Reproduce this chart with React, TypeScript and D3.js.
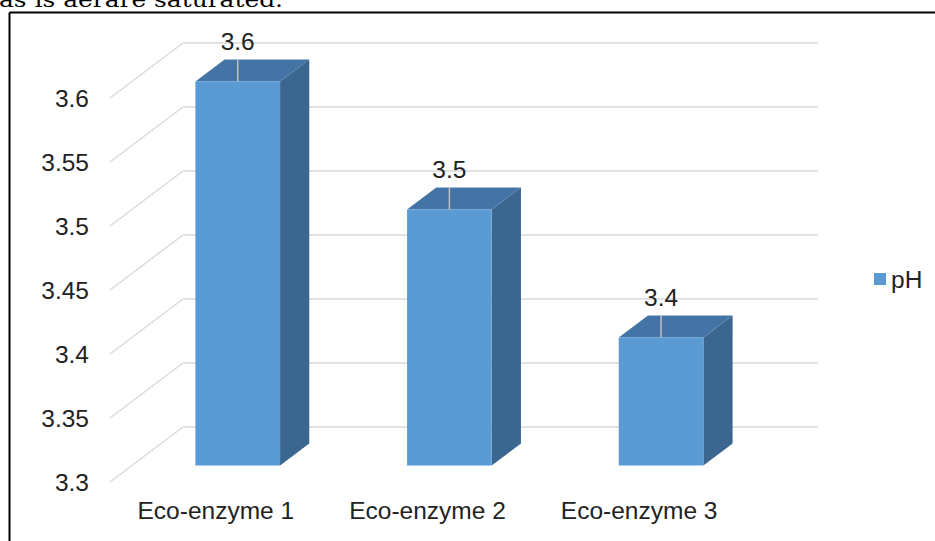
import React from "react";
import * as d3 from "d3";

const categories = ["Eco-enzyme 1", "Eco-enzyme 2", "Eco-enzyme 3"];
const phValues = [3.6, 3.5, 3.4];
const yTicks = [3.3, 3.35, 3.4, 3.45, 3.5, 3.55, 3.6];
const seriesName = "pH";
const topText = "as is  aerare saturated.";

const W = 935;
const H = 541;
const DX = 73;
const DY = -55;
const BAR_D0 = 0.3;
const BAR_D1 = 0.7;

const FONT = "'Liberation Sans', Arial, sans-serif";
const FS = 24.5;

export default function App() {
  const y = d3.scaleLinear().domain([3.3, 3.6]).range([482, 98]);
  const x = d3.scaleBand<string>().domain(categories).range([110, 745]).padding(0);
  const barW = x.bandwidth() * 0.4;
  const fmt = d3.format("");
  const base = y.domain()[0];

  return (
    <svg
      width={W}
      height={H}
      style={{ position: "fixed", left: 0, top: 0, background: "#fff" }}
    >
      <rect x={0} y={0} width={W} height={H} fill="#fff" />
      <text
        x={-1}
        y={7}
        fontFamily="'DejaVu Serif', serif"
        fontSize={20}
        fill="#000"
        textLength={284}
        lengthAdjust="spacingAndGlyphs"
      >
        {topText}
      </text>
      {/* frame */}
      <line x1={9.5} y1={12.5} x2={W} y2={12.5} stroke="#000" strokeWidth={2} />
      <line x1={9.5} y1={12.5} x2={9.5} y2={H} stroke="#000" strokeWidth={2} />

      {/* grid */}
      {yTicks.map((t) => {
        const yf = y(t);
        return (
          <g key={t}>
            <line x1={110} y1={yf} x2={110 + DX} y2={yf + DY} stroke="#d9d9d9" strokeWidth={1.4} />
            <line x1={110 + DX} y1={yf + DY} x2={745 + DX} y2={yf + DY} stroke="#d9d9d9" strokeWidth={1.4} />
            <text
              x={89}
              y={yf}
              dy="0.35em"
              textAnchor="end"
              fontFamily={FONT}
              fontSize={FS}
              fill="#222"
            >
              {fmt(t)}
            </text>
          </g>
        );
      })}

      {/* bars */}
      {categories.map((c, i) => {
        const v = phValues[i];
        const cx = (x(c) as number) + x.bandwidth() / 2;
        const ox0 = BAR_D0 * DX;
        const oy0 = BAR_D0 * DY;
        const ddx = (BAR_D1 - BAR_D0) * DX;
        const ddy = (BAR_D1 - BAR_D0) * DY;
        const x0 = cx - barW / 2 + ox0;
        const x1 = x0 + barW;
        const yt = y(v) + oy0;
        const yb = y(base) + oy0;
        const top = [
          [x0, yt],
          [x1, yt],
          [x1 + ddx, yt + ddy],
          [x0 + ddx, yt + ddy],
        ];
        const side = [
          [x1, yt],
          [x1 + ddx, yt + ddy],
          [x1 + ddx, yb + ddy],
          [x1, yb],
        ];
        const lblY = yt - 32;
        const lx = cx + ox0;
        return (
          <g key={c}>
            <polygon points={side.map((p) => p.join(",")).join(" ")} fill="#3a6690" />
            <polygon points={top.map((p) => p.join(",")).join(" ")} fill="#4474a6" />
            <rect x={x0} y={yt} width={barW} height={yb - yt} fill="#5b9bd5" />
            <line x1={lx} y1={yt} x2={lx} y2={lblY + 10} stroke="#c0c0c0" strokeWidth={1.5} />
            <text
              x={lx}
              y={lblY}
              textAnchor="middle"
              fontFamily={FONT}
              fontSize={FS}
              fill="#222"
            >
              {fmt(v)}
            </text>
            <text
              x={cx}
              y={y(base) + 37}
              textAnchor="middle"
              fontFamily={FONT}
              fontSize={FS}
              fill="#222"
            >
              {c}
            </text>
          </g>
        );
      })}

      {/* legend */}
      <rect x={874} y={273} width={12} height={12} fill="#5b9bd5" />
      <text x={891} y={288} fontFamily={FONT} fontSize={FS} fill="#222">
        {seriesName}
      </text>
    </svg>
  );
}
